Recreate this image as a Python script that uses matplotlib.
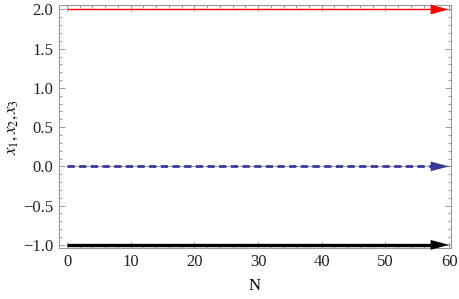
import numpy as np
import matplotlib
matplotlib.use("Agg")
import matplotlib.pyplot as plt
from matplotlib.ticker import MultipleLocator, FuncFormatter

N = np.arange(0, 61)
x1 = np.full(len(N), 2.0)
x2 = np.full(len(N), 0.0)
x3 = np.full(len(N), -1.0)

plt.rcParams['font.family'] = ['Liberation Serif', 'DejaVu Serif']
plt.rcParams['mathtext.fontset'] = 'stix'

fig = plt.figure(figsize=(4.6, 2.99), dpi=100)
ax = fig.add_axes([59 / 460, 1 - 248 / 299, (451 - 59) / 460, (248 - 5) / 299])

# thin solid guide under the dashed series
ax.plot(N, x2, color='#6a6ab0', lw=0.5)

series = [
    (x1, '#ff0000', '-', 1.0),
    (x2, '#3a3a9a', (0, (2.6, 1.6)), 2.0),
    (x3, '#000000', '-', 2.4),
]
for y, c, ls, lw in series:
    ax.plot(N[:-2], y[:-2], color=c, ls=ls, lw=lw, solid_capstyle='butt',
            clip_on=False, zorder=3)
    ax.arrow(N[-4], y[-4], N[-1] - N[-4], y[-1] - y[-4], width=0,
             head_width=0.125, head_length=2.9, length_includes_head=True,
             color=c, lw=0, clip_on=False, zorder=3)

ax.set_xlim(-1.26, 60.3)
ax.set_ylim(-1.04, 2.057)
ax.xaxis.set_major_locator(MultipleLocator(10))
ax.xaxis.set_minor_locator(MultipleLocator(2))
ax.yaxis.set_major_locator(MultipleLocator(0.5))
ax.yaxis.set_minor_locator(MultipleLocator(0.1))
ax.yaxis.set_major_formatter(FuncFormatter(lambda v, p: ('%.1f' % v).replace('-', '\u2212')))

for s in ax.spines.values():
    s.set_color('#999999')
    s.set_linewidth(0.8)
ax.tick_params(which='both', direction='in', top=True, right=True,
               color='#999999', labelsize=12, labelcolor='#222222', width=0.7)
ax.tick_params(which='major', length=4.5, pad=4)
ax.tick_params(which='minor', length=2.5)

ax.set_xlabel('N', fontsize=12, labelpad=6)
ax.set_ylabel('$x_1,x_2,x_3$', fontsize=12, labelpad=4)
ax.yaxis.set_label_coords(-0.1, 0.5)

fig.savefig('out.png', dpi=100)
